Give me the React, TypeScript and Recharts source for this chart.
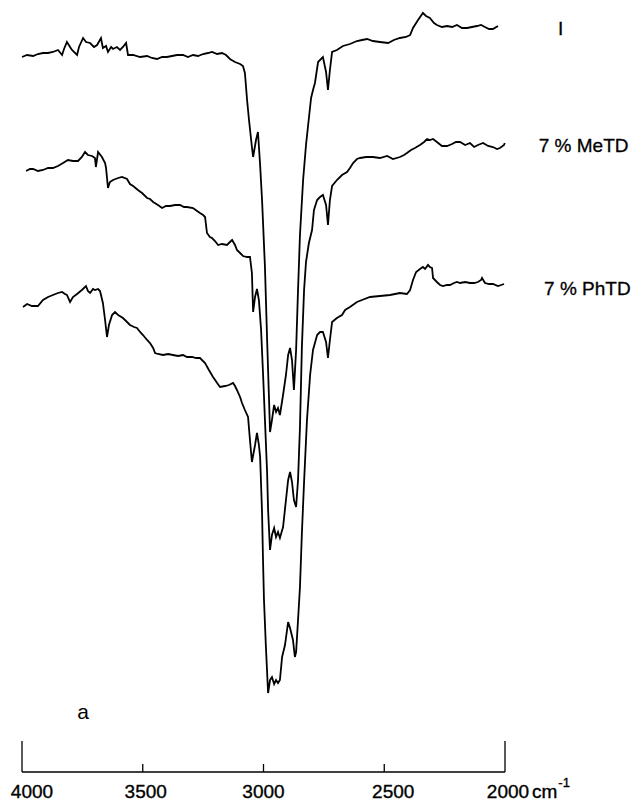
import React from "react";
import { LineChart, Line, XAxis, YAxis, ReferenceDot } from "recharts";

// Wavenumber (cm-1) vs. transmittance (arbitrary, offset traces)
const TICKS = [4000, 3500, 3000, 2500, 2000];
const SERIES_LABELS = ["I", "7 % MeTD", "7 % PhTD"];
const PANEL_LABEL = "a";

const SPECTRUM_I: [number, number][] = [
  [4000, 71.5], [3979, 71.7], [3954, 71.6], [3934, 71.8], [3913, 71.9], [3892, 71.9], [3872, 72.0],
  [3851, 72.2], [3834, 71.7], [3826, 72.3], [3814, 73.0], [3801, 72.5], [3793, 72.2], [3772, 71.7],
  [3764, 72.5], [3747, 73.4], [3735, 73.0], [3718, 72.9], [3702, 72.5], [3689, 72.7], [3673, 73.4],
  [3665, 72.4], [3652, 72.6], [3644, 72.0], [3631, 72.5], [3623, 72.3], [3607, 72.5], [3594, 72.2],
  [3582, 72.5], [3569, 72.9], [3561, 71.7], [3540, 71.7], [3511, 71.5], [3482, 71.6], [3462, 71.4],
  [3441, 71.3], [3420, 71.5], [3400, 71.5], [3379, 71.6], [3358, 71.7], [3333, 71.7], [3313, 71.5],
  [3292, 71.7], [3271, 71.6], [3250, 71.8], [3230, 71.9], [3213, 72.0], [3192, 71.8], [3172, 71.9],
  [3155, 71.7], [3139, 71.3], [3118, 71.0], [3097, 70.8], [3085, 70.6], [3077, 69.9], [3068, 67.2],
  [3060, 65.2], [3048, 62.5], [3043, 61.5], [3031, 63.2], [3023, 64.0], [3014, 60.7], [3006, 57.2],
  [2994, 50.5], [2985, 43.2], [2977, 37.2], [2973, 34.0], [2965, 35.2], [2956, 36.7], [2948, 36.0],
  [2940, 36.4], [2932, 35.7], [2919, 37.7], [2907, 39.7], [2898, 41.7], [2890, 42.4], [2882, 41.2],
  [2874, 38.2], [2865, 42.2], [2857, 48.2], [2849, 53.7], [2836, 59.2], [2824, 62.7], [2812, 65.4],
  [2803, 67.4], [2795, 68.2], [2787, 68.9], [2774, 71.0], [2766, 71.2], [2754, 71.5], [2741, 70.0],
  [2733, 68.2], [2725, 70.2], [2716, 72.0], [2696, 72.2], [2671, 72.6], [2642, 72.8], [2613, 73.1],
  [2592, 73.2], [2571, 73.3], [2547, 73.1], [2518, 73.0], [2484, 72.9], [2460, 73.2], [2435, 73.4],
  [2410, 73.5], [2393, 73.7], [2381, 74.4], [2360, 75.2], [2340, 75.9], [2327, 75.6], [2311, 75.4],
  [2294, 74.9], [2282, 74.7], [2261, 74.5], [2240, 74.6], [2219, 74.5], [2199, 74.7], [2178, 74.4],
  [2157, 74.4], [2137, 74.5], [2116, 74.6], [2099, 74.7], [2083, 74.5], [2066, 74.3], [2050, 74.3],
  [2029, 74.6],
];

const SPECTRUM_METD: [number, number][] = [
  [3983, 60.1], [3967, 60.3], [3954, 60.3], [3934, 60.1], [3913, 60.2], [3892, 60.4], [3872, 60.4],
  [3851, 60.6], [3830, 60.9], [3810, 61.2], [3789, 61.1], [3768, 61.1], [3752, 61.5], [3739, 62.0],
  [3727, 61.7], [3710, 61.6], [3698, 61.4], [3694, 60.5], [3685, 62.0], [3669, 61.5], [3656, 60.9],
  [3652, 60.4], [3644, 58.4], [3636, 59.0], [3623, 59.2], [3602, 59.4], [3586, 59.5], [3565, 59.3],
  [3553, 58.8], [3540, 58.6], [3520, 58.2], [3503, 57.9], [3482, 57.4], [3470, 57.3], [3457, 57.0],
  [3437, 56.7], [3420, 56.4], [3404, 56.6], [3387, 56.6], [3366, 56.7], [3346, 56.7], [3329, 56.5],
  [3317, 56.5], [3292, 56.4], [3275, 56.1], [3263, 55.9], [3250, 55.7], [3242, 55.5], [3234, 53.9],
  [3222, 53.5], [3213, 53.4], [3201, 53.1], [3188, 52.7], [3172, 52.8], [3151, 52.7], [3139, 53.0],
  [3130, 53.2], [3118, 52.7], [3110, 52.2], [3097, 51.9], [3085, 51.6], [3068, 51.5], [3056, 51.5],
  [3048, 49.9], [3043, 46.0], [3035, 47.5], [3027, 48.3], [3019, 47.2], [3010, 44.2], [3002, 39.9],
  [2994, 35.2], [2985, 29.9], [2981, 26.2], [2973, 22.2], [2965, 23.7], [2956, 24.4], [2948, 23.5],
  [2940, 24.0], [2932, 23.4], [2919, 24.5], [2907, 27.2], [2898, 29.2], [2890, 30.0], [2882, 29.0],
  [2874, 27.2], [2865, 26.5], [2857, 29.2], [2849, 34.5], [2841, 42.5], [2832, 48.2], [2824, 51.0],
  [2812, 52.9], [2799, 54.2], [2791, 56.2], [2778, 57.2], [2766, 57.5], [2754, 57.7], [2741, 56.7],
  [2733, 54.7], [2725, 57.2], [2716, 58.6], [2696, 59.2], [2675, 59.7], [2654, 60.0], [2642, 60.4],
  [2629, 60.9], [2613, 61.3], [2600, 61.4], [2575, 61.5], [2547, 61.5], [2518, 61.4], [2488, 61.6],
  [2464, 61.3], [2435, 61.5], [2418, 61.7], [2406, 61.9], [2389, 62.2], [2373, 62.4], [2352, 62.7],
  [2335, 63.0], [2323, 63.3], [2311, 63.2], [2298, 63.3], [2282, 63.0], [2261, 62.6], [2240, 62.6],
  [2219, 62.8], [2203, 63.0], [2186, 63.0], [2165, 62.7], [2145, 62.9], [2128, 62.5], [2112, 62.7],
  [2091, 62.9], [2070, 62.6], [2050, 62.5], [2033, 62.3], [2021, 62.4], [2004, 62.7], [2001, 62.9],
];

const SPECTRUM_PHTD: [number, number][] = [
  [3996, 46.5], [3979, 46.8], [3959, 46.6], [3934, 46.6], [3913, 47.2], [3892, 47.5], [3872, 47.7],
  [3851, 47.9], [3834, 48.0], [3822, 47.8], [3814, 47.7], [3801, 47.0], [3789, 47.5], [3772, 47.8],
  [3752, 48.2], [3735, 48.6], [3727, 48.1], [3718, 47.9], [3706, 48.3], [3698, 48.2], [3685, 48.3],
  [3677, 48.1], [3665, 46.9], [3656, 45.2], [3648, 43.5], [3640, 44.7], [3627, 45.7], [3615, 46.0],
  [3602, 45.7], [3582, 45.4], [3565, 45.0], [3553, 44.7], [3536, 44.5], [3524, 44.4], [3511, 44.0],
  [3499, 43.7], [3482, 43.2], [3470, 42.9], [3457, 42.4], [3449, 41.9], [3437, 41.8], [3416, 41.7],
  [3395, 41.8], [3375, 41.7], [3354, 41.6], [3333, 41.7], [3317, 41.5], [3296, 41.5], [3279, 41.4],
  [3263, 41.4], [3242, 40.9], [3226, 40.2], [3209, 39.5], [3192, 38.9], [3180, 38.5], [3159, 38.6],
  [3143, 38.7], [3126, 38.9], [3118, 38.6], [3110, 38.2], [3097, 37.5], [3089, 36.9], [3077, 36.2],
  [3064, 35.5], [3056, 33.2], [3048, 31.0], [3035, 32.7], [3027, 33.9], [3019, 32.7], [3014, 31.5],
  [3006, 25.9], [3002, 21.2], [2998, 17.2], [2990, 12.5], [2981, 7.9], [2973, 9.2], [2965, 9.5],
  [2956, 8.8], [2948, 9.2], [2940, 8.9], [2932, 9.2], [2923, 11.5], [2911, 12.7], [2898, 15.0],
  [2890, 14.4], [2878, 13.2], [2870, 11.5], [2865, 12.0], [2857, 15.2], [2849, 18.5], [2841, 23.9],
  [2832, 29.0], [2820, 35.2], [2807, 39.7], [2795, 42.2], [2778, 43.7], [2766, 44.0], [2754, 44.0],
  [2741, 43.0], [2733, 41.4], [2725, 43.2], [2716, 45.0], [2696, 45.4], [2675, 45.7], [2662, 46.2],
  [2642, 46.5], [2613, 47.0], [2592, 47.2], [2559, 47.5], [2518, 47.6], [2476, 47.7], [2435, 47.9],
  [2406, 47.8], [2393, 48.2], [2381, 49.2], [2368, 50.0], [2352, 50.3], [2340, 50.5], [2331, 50.3],
  [2319, 50.7], [2311, 50.5], [2302, 50.4], [2298, 49.4], [2282, 49.0], [2269, 48.7], [2257, 48.6],
  [2240, 48.7], [2228, 48.7], [2211, 48.9], [2199, 49.0], [2186, 48.9], [2165, 49.0], [2145, 48.9],
  [2128, 48.9], [2112, 49.0], [2099, 49.2], [2095, 49.4], [2083, 48.9], [2066, 48.8], [2050, 48.8],
  [2029, 48.6], [2016, 48.7], [2004, 48.8],
];

const toRows = (pairs: [number, number][]) => pairs.map(([wn, t]) => ({ wn, t }));
const DATA_I = toRows(SPECTRUM_I);
const DATA_METD = toRows(SPECTRUM_METD);
const DATA_PHTD = toRows(SPECTRUM_PHTD);

const FONT = "'Liberation Sans', Arial, Helvetica, sans-serif";
const LABEL_DX: Record<number, number> = { 4000: 10, 3500: 3, 3000: 0, 2500: 9, 2000: 3 };

const AxisTick = (props: any) => {
  const { x, y, payload } = props;
  const v = payload.value as number;
  const big = v === 4000 || v === 2000;
  return (
    <g>
      <line x1={x} x2={x} y1={y} y2={y - (big ? 31 : 8)} stroke="#000" strokeWidth={1.3} />
      <text
        x={x + (LABEL_DX[v] ?? 0)}
        y={y + 26}
        textAnchor="middle"
        fontFamily={FONT}
        fontSize={19}
        fill="#000"
        stroke="#000"
        strokeWidth={0.35}
      >
        {v}
      </text>
      {v === 2000 && (
        <text x={x + 27} y={y + 26} textAnchor="start" fontFamily={FONT} fontSize={19} fill="#000" stroke="#000" strokeWidth={0.35}>
          cm
          <tspan dx={1} dy={-11} fontSize={13}>-1</tspan>
        </text>
      )}
    </g>
  );
};

const makeEndLabel = (text: string, last: number, dx: number, dy: number) => (p: any) => {
  if (p.index !== last) return <g />;
  return (
    <text
      x={p.x + dx}
      y={p.y + dy}
      textAnchor="start"
      fontFamily={FONT}
      fontSize={19}
      fill="#000"
      stroke="#000"
      strokeWidth={0.3}
    >
      {text}
    </text>
  );
};

export default function App() {
  return (
    <div style={{ position: "absolute", left: 0, top: 0, width: 635, height: 804, background: "#fff" }}>
      <LineChart width={635} height={804} margin={{ top: 0, right: 130, bottom: 0, left: 22 }}>
        <XAxis
          dataKey="wn"
          type="number"
          domain={[2000, 4000]}
          reversed
          ticks={TICKS}
          interval={0}
          tickSize={0}
          tickMargin={0}
          tickLine={false}
          tick={<AxisTick />}
          axisLine={{ stroke: "#000", strokeWidth: 1.3 }}
          height={32}
        />
        <YAxis type="number" domain={[0, 77.2]} hide />
        <Line
          data={DATA_I}
          dataKey="t"
          type="linear"
          stroke="#000"
          strokeWidth={1.8}
          dot={false}
          isAnimationActive={false}
          label={makeEndLabel(SERIES_LABELS[0], DATA_I.length - 1, 60, 9)}
        />
        <Line
          data={DATA_METD}
          dataKey="t"
          type="linear"
          stroke="#000"
          strokeWidth={1.8}
          dot={false}
          isAnimationActive={false}
          label={makeEndLabel(SERIES_LABELS[1], DATA_METD.length - 1, 34, 9)}
        />
        <Line
          data={DATA_PHTD}
          dataKey="t"
          type="linear"
          stroke="#000"
          strokeWidth={1.8}
          dot={false}
          isAnimationActive={false}
          label={makeEndLabel(SERIES_LABELS[2], DATA_PHTD.length - 1, 40, 11)}
        />
        <ReferenceDot
          x={3747}
          y={6.0}
          r={0}
          fill="none"
          stroke="none"
          label={{ value: PANEL_LABEL, position: "center", fill: "#000", fontSize: 21, fontFamily: FONT }}
        />
      </LineChart>
    </div>
  );
}
